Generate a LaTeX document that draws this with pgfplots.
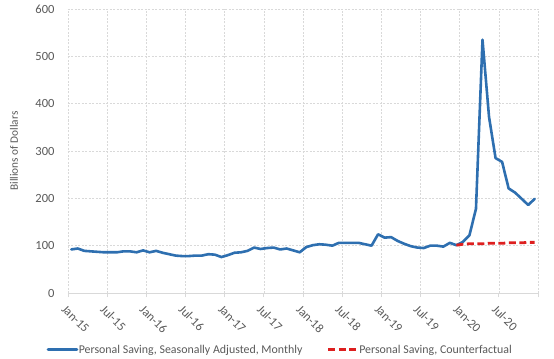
\documentclass[border=0pt]{standalone}
\usepackage{pgfplots}
\pgfplotsset{compat=1.18}
\usepackage{pgfplotstable}
\usepackage{fontspec}
\setmainfont{Carlito}
\definecolor{sblue}{HTML}{2E6FB0}
\definecolor{sred}{HTML}{DD1F1F}
\definecolor{tgray}{HTML}{595959}
\definecolor{ggray}{HTML}{D9D9D9}

\pgfplotstableread{
x y
0.5 92
1.5 94
2.5 89
3.5 88
4.5 87
5.5 86
6.5 86
7.5 86
8.5 88
9.5 88
10.5 86
11.5 90
12.5 86
13.5 89
14.5 85
15.5 82
16.5 79
17.5 78
18.5 78
19.5 79
20.5 79
21.5 82
22.5 81
23.5 76
24.5 80
25.5 85
26.5 86
27.5 89
28.5 96
29.5 93
30.5 95
31.5 96
32.5 92
33.5 94
34.5 90
35.5 86
36.5 97
37.5 101
38.5 103
39.5 102
40.5 100
41.5 106
42.5 106
43.5 106
44.5 106
45.5 103
46.5 100
47.5 124
48.5 117
49.5 118
50.5 110
51.5 104
52.5 99
53.5 96
54.5 95
55.5 100
56.5 100
57.5 98
58.5 106
59.5 101
60.5 108
61.5 122
62.5 178
63.5 535
64.5 372
65.5 285
66.5 277
67.5 221
68.5 212
69.5 199
70.5 186
71.5 199
}\saving

\pgfplotstableread{
x y
59.5 101
60.5 103
61.5 104
62.5 104
63.5 104
64.5 105
65.5 105
66.5 105
67.5 106
68.5 106
69.5 106
70.5 107
71.5 107
}\counter

\begin{document}
\begin{tikzpicture}
\useasboundingbox (-68bp,-66bp) rectangle (486bp,284bp+9bp);
\begin{axis}[
  scale only axis,
  width=470bp, height=284bp,
  at={(0,0)}, anchor=south west,
  xmin=0, xmax=72, ymin=0, ymax=600,
  xtick={0,6,...,72},
  xticklabels={Jan-15,Jul-15,Jan-16,Jul-16,Jan-17,Jul-17,Jan-18,Jul-18,Jan-19,Jul-19,Jan-20,Jul-20,},
  ytick={0,100,...,600},
  axis x line*=bottom, axis y line*=left,
  axis line style={-},
  x axis line style={draw=ggray, line width=0.8pt},
  y axis line style={draw=none},
  xtick pos=bottom, tick align=outside,
  x tick style={draw=ggray, line width=0.8pt},
  major tick length=4bp,
  ytick style={draw=none},
  grid=major,
  major grid style={draw=ggray, line width=0.6pt, dash pattern=on 2bp off 1.5bp},
  /pgf/number format/assume math mode=true,
  tick label style={font=\fontsize{12.5bp}{14bp}\selectfont, text=tgray},
  xticklabel style={rotate=-45, anchor=north west, xshift=3bp, yshift=-5bp, inner sep=1bp},
  yticklabel style={xshift=-6bp},
  ylabel={Billions of Dollars},
  ylabel style={at={(axis description cs:-0.115,0.5)}, anchor=center, font=\fontsize{11.3bp}{13bp}\selectfont, text=tgray},
  legend columns=2,
  legend style={at={(0.45,-0.2)}, anchor=center, draw=none, fill=none,
    font=\fontsize{11.9bp}{13bp}\selectfont, text=tgray,
    /tikz/every even column/.append style={column sep=24bp},
    nodes={inner sep=0.5bp}},
  legend cell align=left,
  legend image code/.code={\draw[#1] (0bp,0bp) -- (29bp,0bp);},
]
\addplot[sblue, line width=2.6bp, line join=round, line cap=round] table[x=x,y=y] {\saving};
\addlegendentry{Personal Saving, Seasonally Adjusted, Monthly}
\addplot[sred, line width=2.8bp, dash pattern=on 7bp off 3.5bp] table[x=x,y=y] {\counter};
\addlegendentry{Personal Saving, Counterfactual}
\end{axis}
\end{tikzpicture}
\end{document}
